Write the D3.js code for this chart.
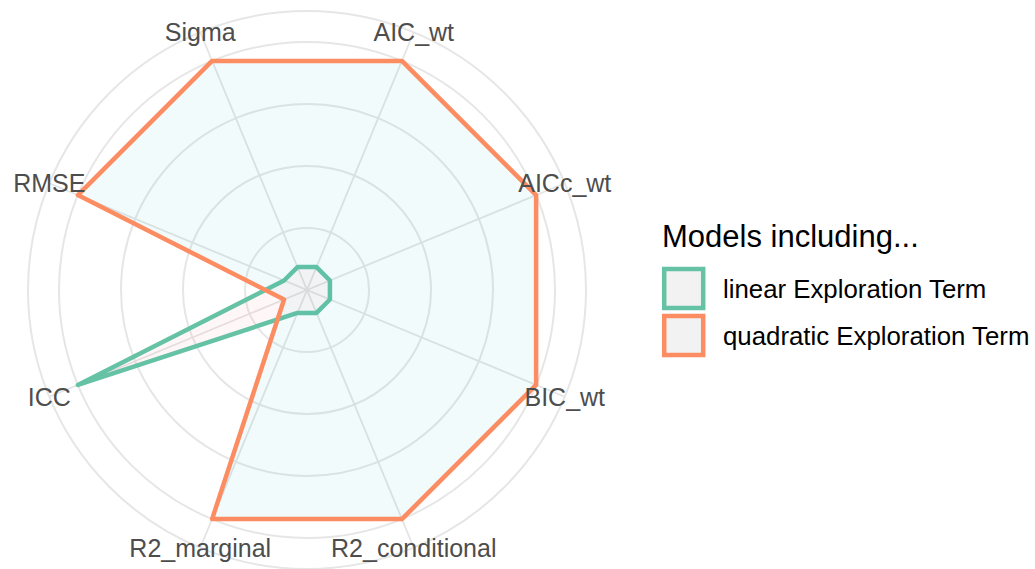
<!DOCTYPE html>
<html>
<head>
<meta charset="utf-8">
<script src="https://cdn.jsdelivr.net/npm/d3@7/dist/d3.min.js"></script>
<style>
  html, body { margin: 0; padding: 0; background: #ffffff; }
  svg { display: block; font-family: "Liberation Sans", Arial, sans-serif; }
</style>
</head>
<body>
<svg id="chart" width="1035" height="569"></svg>
<script>
// ---- data ----
const metrics = ["AIC_wt", "AICc_wt", "BIC_wt", "R2_conditional", "R2_marginal", "ICC", "RMSE", "Sigma"];
const seriesNames = ["linear Exploration Term", "quadratic Exploration Term"];
const linearValues    = [0.1, 0.1, 0.1, 0.1, 0.1, 1.0, 0.1, 0.1];
const quadraticValues = [1.0, 1.0, 1.0, 1.0, 1.0, 0.1, 1.0, 1.0];
const ringValues = [0.25, 0.5, 0.75, 1.0];
const legendTitle = "Models including...";
const lineColors = ["#66C2A5", "#FC8D62"];
const fillColors = ["#F8766D", "#00BFC4"];

// ---- layout ----
const svg = d3.select("#chart");
const cx = 307, cy = 290;
const outerValue = 1.125;

const angle = d3.scaleBand().domain(metrics).range([0, 2 * Math.PI]).paddingInner(0).paddingOuter(0);
const r = d3.scaleLinear().domain([0, outerValue]).range([0, 279]);
const ang = m => angle(m) + angle.bandwidth() / 2;
const px = (m, v) => Math.sin(ang(m)) * r(v);
const py = (m, v) => -Math.cos(ang(m)) * r(v);

const g = svg.append("g").attr("transform", `translate(${cx},${cy})`);

// grid rings
g.selectAll("circle.ring")
  .data(ringValues.concat([outerValue]))
  .join("circle")
  .attr("class", "ring")
  .attr("r", d => r(d))
  .attr("fill", "none")
  .attr("stroke", "#E6E6E6")
  .attr("stroke-width", 2);

// spokes
g.selectAll("line.spoke")
  .data(metrics)
  .join("line")
  .attr("class", "spoke")
  .attr("x1", 0).attr("y1", 0)
  .attr("x2", m => px(m, outerValue))
  .attr("y2", m => py(m, outerValue))
  .attr("stroke", "#E4E4E4")
  .attr("stroke-width", 1.8);

// polygons
const series = [linearValues, quadraticValues];
const line = d3.lineRadial()
  .angle(d => ang(d.m))
  .radius(d => r(d.v))
  .curve(d3.curveLinearClosed);

series.forEach((vals, i) => {
  const pts = metrics.map((m, j) => ({ m, v: vals[j] }));
  g.append("path")
    .attr("d", line(pts))
    .attr("fill", fillColors[i])
    .attr("fill-opacity", 0.055)
    .attr("stroke", lineColors[i])
    .attr("stroke-width", 4.5)
    .attr("stroke-linejoin", "round");
});

// axis labels
g.selectAll("text.axis-label")
  .data(metrics)
  .join("text")
  .attr("class", "axis-label")
  .attr("x", m => px(m, outerValue))
  .attr("y", m => py(m, outerValue))
  .attr("text-anchor", "middle")
  .attr("dominant-baseline", "central")
  .attr("fill", "#4D4D4D")
  .attr("font-size", 25)
  .text(m => m);

// legend
const lg = svg.append("g").attr("transform", "translate(662,0)");
lg.append("text")
  .attr("x", 0).attr("y", 247)
  .attr("font-size", 31)
  .attr("fill", "#000")
  .text(legendTitle);

seriesNames.forEach((name, i) => {
  const y0 = 269 + i * 47;
  lg.append("rect")
    .attr("x", 2.2).attr("y", y0)
    .attr("width", 39).attr("height", 39)
    .attr("fill", "#F2F2F2")
    .attr("stroke", lineColors[i])
    .attr("stroke-width", 4.5);
  lg.append("text")
    .attr("x", 61).attr("y", y0 + 19.5)
    .attr("dominant-baseline", "central")
    .attr("font-size", 25.8)
    .attr("fill", "#000")
    .text(name);
});
</script>
</body>
</html>
